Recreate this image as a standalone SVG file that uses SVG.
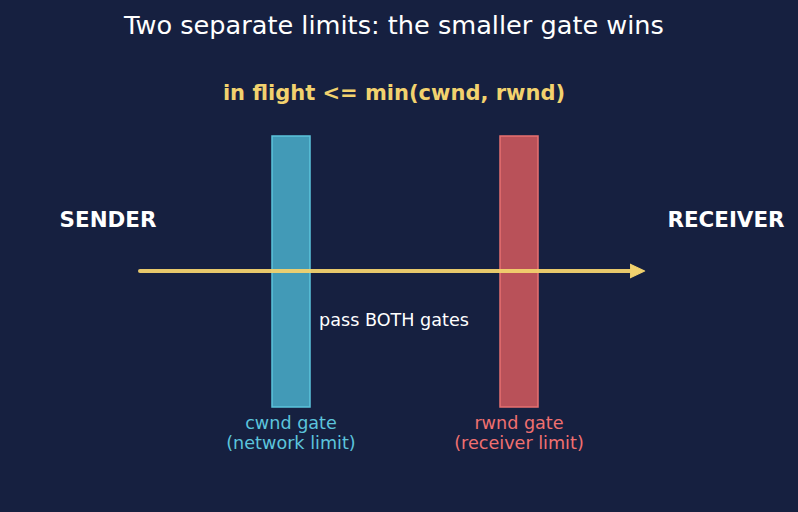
<svg xmlns="http://www.w3.org/2000/svg" width="798" height="512" viewBox="0 0 798 512">
<style>
text{font-family:"DejaVu Sans","Liberation Sans",sans-serif;text-anchor:middle}
.title{font-size:25.6px;fill:#ffffff}
.formula{font-size:21px;font-weight:bold;fill:#f2d26e}
.end{font-size:21.4px;font-weight:bold;fill:#ffffff}
.lbl{font-size:17.6px}
</style>
<defs>
<marker id="ah" markerWidth="4" markerHeight="4" refX="2.2" refY="2" orient="auto" markerUnits="strokeWidth">
<path d="M0,0.3 L3.6,2 L0,3.7 Z" fill="#f2d26e" stroke="#f2d26e" stroke-width="0.3" stroke-linejoin="round"/>
</marker>
</defs>
<rect width="798" height="512" fill="#162040"/>
<text class="title" x="394" y="34">Two separate limits: the smaller gate wins</text>
<text class="formula" x="394" y="100">in flight &lt;= min(cwnd, rwnd)</text>
<g id="sender"><text class="end" x="108" y="227">SENDER</text></g>
<g id="receiver"><text class="end" x="726" y="227">RECEIVER</text></g>
<g id="cwnd-gate">
<rect x="272" y="136" width="38" height="271" fill="#4ab0cc" fill-opacity="0.85" stroke="#5cc4dc" stroke-width="1.5"/>
<text class="lbl" x="291" y="429" fill="#5cc4dc">cwnd gate</text>
<text class="lbl" x="291" y="449" fill="#5cc4dc">(network limit)</text>
</g>
<g id="rwnd-gate">
<rect x="500" y="136" width="38" height="271" fill="#d65a5e" fill-opacity="0.85" stroke="#e87070" stroke-width="1.5"/>
<text class="lbl" x="519" y="429" fill="#f07070">rwnd gate</text>
<text class="lbl" x="519" y="449" fill="#f07070">(receiver limit)</text>
</g>
<g id="connectors">
<line x1="140" y1="271" x2="639" y2="271" stroke="#f2d26e" stroke-width="4" stroke-linecap="round" stroke-opacity="0.95" marker-end="url(#ah)"/>
</g>
<text class="lbl" x="394" y="326" fill="#ffffff">pass BOTH gates</text>
</svg>
